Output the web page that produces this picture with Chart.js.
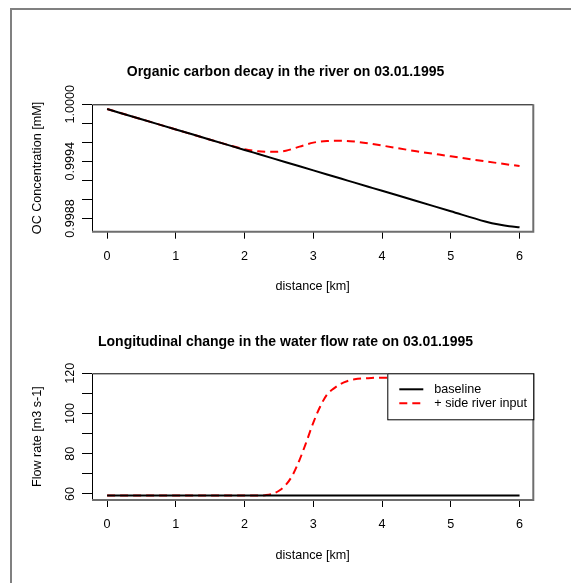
<!DOCTYPE html>
<html>
<head>
<meta charset="utf-8">
<script src="https://cdn.jsdelivr.net/npm/chart.js@4.4.1/dist/chart.umd.min.js"></script>
<style>
  body { margin: 0; background: #fff; width: 571px; height: 583px; overflow: hidden; position: relative; }
  #frame { position: absolute; left: 10px; top: 8px; width: 600px; height: 600px;
           border-top: 2px solid #808080; border-left: 2px solid #808080; }
  canvas { position: absolute; left: 0; }
  #oc { top: 0; }
  #flow { top: 300px; }
</style>
</head>
<body>
<div id="frame"></div>
<canvas id="oc" width="571" height="300"></canvas>
<canvas id="flow" width="571" height="283"></canvas>
<script>
// distância ao longo do rio [km]
const ocDistance = [0, 0.5, 1, 1.5, 2, 2.2, 2.4, 2.6, 2.8, 3, 3.2, 3.4, 3.6, 3.8, 4, 4.5, 5, 5.5, 5.7, 5.85, 6];
const ocBaseline = [0.99995, 0.999843, 0.999735, 0.999628, 0.99952, 0.999477, 0.999434, 0.999391, 0.999348, 0.999305,
  0.999262, 0.999219, 0.999176, 0.999133, 0.99909, 0.998983, 0.998875, 0.998768, 0.998735, 0.998717, 0.998708];
const ocSideRiver = [0.99995, 0.999843, 0.999735, 0.999628, 0.999528, 0.999505, 0.9995, 0.999512, 0.999555, 0.999597,
  0.999614, 0.999617, 0.999608, 0.99959, 0.999566, 0.999506, 0.999453, 0.9994, 0.99938, 0.999365, 0.99935];

const flowDistance = [0, 1, 2, 2.2, 2.3, 2.4, 2.5, 2.6, 2.7, 2.8, 2.9, 3, 3.1, 3.2, 3.3, 3.4, 3.5, 3.6, 3.8, 4, 5, 6];
const flowBaseline = [59.2, 59.2, 59.2, 59.2, 59.2, 59.2, 59.2, 59.2, 59.2, 59.2, 59.2,
  59.2, 59.2, 59.2, 59.2, 59.2, 59.2, 59.2, 59.2, 59.2, 59.2, 59.2];
const flowSideRiver = [59.2, 59.2, 59.2, 59.2, 59.4, 60, 61.6, 64.5, 69.5, 77, 86,
  95.5, 103.5, 109.5, 112.5, 114.8, 116.2, 117, 117.6, 117.8, 117.8, 117.8];

const seriesNames = ['baseline', '+ side river input'];

const distanceTicks = [0, 1, 2, 3, 4, 5, 6];
const ocTicks = [0.9988, 0.999, 0.9992, 0.9994, 0.9996, 0.9998, 1.0];
const ocTickLabels = ['0.9988', '', '', '0.9994', '', '', '1.0000'];
const flowTicks = [60, 70, 80, 90, 100, 110, 120];
const flowTickLabels = ['60', '', '80', '', '100', '', '120'];

const FONTE = "'Liberation Sans', Arial, Helvetica, sans-serif";
Chart.defaults.font.family = FONTE;
Chart.defaults.color = '#000';

function pares(xs, ys) {
  return xs.map((x, i) => ({ x: x, y: ys[i] }));
}

// caixa em volta da área do gráfico (estilo R)
const caixaPlugin = {
  id: 'caixa',
  afterDatasetsDraw(chart) {
    const { ctx, chartArea: a } = chart;
    ctx.save();
    ctx.lineWidth = 1;
    ctx.strokeStyle = '#000';
    ctx.beginPath();
    ctx.moveTo(a.left + 0.5, a.bottom);
    ctx.lineTo(a.left + 0.5, a.top + 0.5);
    ctx.lineTo(a.right, a.top + 0.5);
    ctx.stroke();
    ctx.lineWidth = 2;
    ctx.strokeStyle = '#6e6e6e';
    ctx.beginPath();
    ctx.moveTo(a.right, a.top);
    ctx.lineTo(a.right, a.bottom);
    ctx.lineTo(a.left, a.bottom);
    ctx.stroke();
    ctx.restore();
  }
};

// legenda dentro do gráfico, canto superior direito
const legendaPlugin = {
  id: 'legendaR',
  afterDraw(chart, args, opts) {
    if (!opts.show) return;
    const { ctx, chartArea: a } = chart;
    const w = 146, h = 46;
    const x0 = a.right - w, y0 = a.top;
    ctx.save();
    ctx.fillStyle = '#fff';
    ctx.fillRect(x0, y0, w, h);
    ctx.strokeStyle = '#000';
    ctx.lineWidth = 1;
    ctx.strokeRect(x0 + 0.5, y0 + 0.5, w, h);
    ctx.font = '12.6px ' + FONTE;
    ctx.textBaseline = 'middle';
    chart.data.datasets.forEach((ds, i) => {
      const y = y0 + 16 + i * 14;
      ctx.strokeStyle = ds.borderColor;
      ctx.lineWidth = ds.borderWidth;
      ctx.setLineDash(ds.borderDash || []);
      ctx.beginPath();
      ctx.moveTo(x0 + 12, y);
      ctx.lineTo(x0 + 36, y);
      ctx.stroke();
      ctx.setLineDash([]);
      ctx.fillStyle = '#000';
      ctx.fillText(ds.label, x0 + 47, y);
    });
    ctx.restore();
  }
};

function montarGrafico(id, cfg) {
  const canvas = document.getElementById(id);
  const alturaEixoX = canvas.height - cfg.fundo;

  return new Chart(canvas.getContext('2d'), {
    type: 'line',
    data: {
      datasets: [{
        label: seriesNames[0],
        data: pares(cfg.xs1, cfg.ys1),
        borderColor: '#000',
        borderWidth: 2,
        pointRadius: 0,
        cubicInterpolationMode: 'monotone'
      }, {
        label: seriesNames[1],
        data: pares(cfg.xs2, cfg.ys2),
        borderColor: '#ff0000',
        borderWidth: 2,
        borderDash: [8, 5],
        pointRadius: 0,
        cubicInterpolationMode: 'monotone'
      }]
    },
    options: {
      responsive: false,
      animation: false,
      devicePixelRatio: 1,
      layout: { padding: 0 },
      plugins: {
        legend: { display: false },
        tooltip: { enabled: false },
        title: {
          display: true,
          text: cfg.titulo,
          font: { size: 14, weight: 'bold' },
          padding: { top: cfg.tituloTopo, bottom: cfg.tituloBaixo }
        },
        legendaR: { show: cfg.legenda }
      },
      scales: {
        x: {
          type: 'linear',
          min: -0.22,
          max: 6.2,
          afterBuildTicks: s => { s.ticks = distanceTicks.map(v => ({ value: v })); },
          afterFit: s => { s.height = alturaEixoX; },
          grid: { drawOnChartArea: false, drawTicks: true, tickLength: 7, color: '#000', lineWidth: 1 },
          border: { display: false },
          ticks: { font: { size: 12.6 }, padding: 10, maxRotation: 0, autoSkip: false, callback: v => String(v) },
          title: {
            display: true,
            text: 'distance [km]',
            font: { size: 12.6 },
            padding: { top: 0, bottom: cfg.xTituloBaixo }
          }
        },
        y: {
          type: 'linear',
          min: cfg.ymin,
          max: cfg.ymax,
          afterBuildTicks: s => { s.ticks = cfg.ticks.map(v => ({ value: v })); },
          afterFit: s => { s.width = 92; },
          grid: { drawOnChartArea: false, drawTicks: true, tickLength: 10, color: '#000', lineWidth: 1 },
          border: { display: false },
          ticks: {
            font: { size: 12.6 },
            minRotation: 90,
            maxRotation: 90,
            autoSkip: false,
            crossAlign: 'center',
            padding: cfg.yPad,
            callback: (v, i) => cfg.labels[i]
          },
          title: {
            display: true,
            text: cfg.yTitulo,
            font: { size: 12.6 },
            padding: { top: 30.4, bottom: 0 }
          }
        },
        // margem direita vazia, só para o título ficar centrado na página
        margem: {
          type: 'linear',
          position: 'right',
          afterFit: s => { s.width = 571 - 533.3; },
          grid: { display: false },
          border: { display: false },
          ticks: { display: false }
        }
      }
    },
    plugins: [caixaPlugin, legendaPlugin]
  });
}

montarGrafico('oc', {
  titulo: 'Organic carbon decay in the river on 03.01.1995',
  tituloTopo: 63.3, tituloBaixo: 24.2,
  fundo: 231.7,
  xTituloBaixo: 6.4,
  xs1: ocDistance, ys1: ocBaseline,
  xs2: ocDistance, ys2: ocSideRiver,
  ymin: 0.99866, ymax: 1.0,
  ticks: ocTicks, labels: ocTickLabels,
  yPad: -7.8,
  yTitulo: 'OC Concentration [mM]',
  legenda: false
});

montarGrafico('flow', {
  titulo: 'Longitudinal change in the water flow rate on 03.01.1995',
  tituloTopo: 33.3, tituloBaixo: 23.2,
  fundo: 200,
  xTituloBaixo: 20.4,
  xs1: flowDistance, ys1: flowBaseline,
  xs2: flowDistance, ys2: flowSideRiver,
  ymin: 57, ymax: 120,
  ticks: flowTicks, labels: flowTickLabels,
  yPad: 1,
  yTitulo: 'Flow rate [m3 s-1]',
  legenda: true
});
</script>
</body>
</html>
